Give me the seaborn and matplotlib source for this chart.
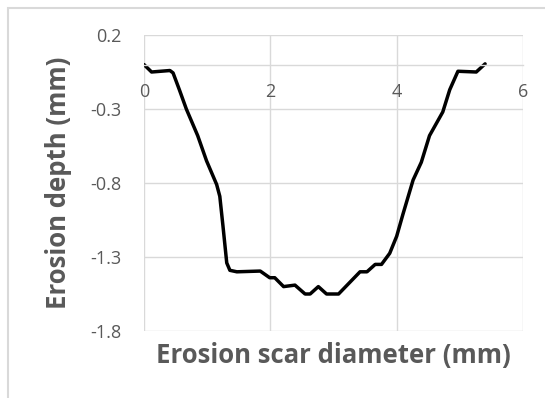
import matplotlib
matplotlib.use("Agg")
import matplotlib.pyplot as plt
import matplotlib.patches as mpatches
import seaborn as sns
import pandas as pd

# ---- data ----
diameter = [0.00, 0.12, 0.41, 0.46, 0.56, 0.67, 0.85, 0.99, 1.15, 1.20, 1.25, 1.31,
            1.36, 1.47, 1.84, 1.99, 2.07, 2.21, 2.39, 2.55, 2.63, 2.76, 2.89, 3.08,
            3.42, 3.53, 3.66, 3.76, 3.89, 4.00, 4.10, 4.26, 4.39, 4.52, 4.73, 4.84,
            4.97, 5.26, 5.40]
depth = [0.00, -0.05, -0.04, -0.056, -0.17, -0.30, -0.48, -0.65, -0.81, -0.89, -1.09, -1.34,
         -1.39, -1.40, -1.395, -1.44, -1.44, -1.50, -1.49, -1.55, -1.55, -1.50, -1.55, -1.55,
         -1.40, -1.40, -1.35, -1.35, -1.275, -1.16, -1.01, -0.78, -0.66, -0.48, -0.32, -0.17,
         -0.045, -0.05, 0.005]
x_ticks = [0, 2, 4, 6]
y_ticks = [0.2, -0.3, -0.8, -1.3, -1.8]
x_label = "Erosion scar diameter (mm)"
y_label = "Erosion depth (mm)"

df = pd.DataFrame({"diameter": diameter, "depth": depth})

sns.set_style("white")
plt.rcParams["font.family"] = ["Open Sans", "DejaVu Sans"]

W, H = 545, 398
fig = plt.figure(figsize=(W / 100, H / 100), dpi=100)
ax = fig.add_axes([144 / W, 1 - 331 / H, 379 / W, 296 / H])

sns.lineplot(data=df, x="diameter", y="depth", ax=ax, color="black",
             linewidth=2.5, sort=False, estimator=None)
ax.lines[0].set_solid_joinstyle("round")
ax.lines[0].set_solid_capstyle("round")

ax.set_xlim(0, 6)
ax.set_ylim(-1.8, 0.2)
ax.set_xticks(x_ticks)
ax.set_xticklabels([str(t) for t in x_ticks])
ax.set_yticks(y_ticks)
ax.set_yticklabels([f"{t:.1f}" for t in y_ticks])

grid_c = "#d9d9d9"
text_c = "#595959"
ax.grid(True, color=grid_c, linewidth=1.0)
ax.set_axisbelow(True)
for s in ["top", "right", "left"]:
    ax.spines[s].set_visible(False)
ax.spines["bottom"].set_position(("data", 0))
ax.spines["bottom"].set_color(grid_c)
ax.spines["bottom"].set_linewidth(1.0)

ax.tick_params(axis="both", length=0, colors=text_c, labelsize=13)
ax.tick_params(axis="y", pad=16)
ax.tick_params(axis="x", pad=13)

ax.set_xlabel(x_label, fontsize=18.5, fontweight="bold", color=text_c, va="center")
ax.set_ylabel(y_label, fontsize=18.5, fontweight="bold", color=text_c, va="center")
ax.xaxis.set_label_coords(0.5, (331 - 355) / 296)
ax.yaxis.set_label_coords((58 - 144) / 379, 0.5)

border = mpatches.Rectangle((7.5 / W, -0.2), 1.5, 1.2 - 7.5 / H,
                            transform=fig.transFigure, fill=False,
                            edgecolor=grid_c, linewidth=1.5)
fig.patches.append(border)

fig.savefig("out.png", dpi=100, facecolor="white")
